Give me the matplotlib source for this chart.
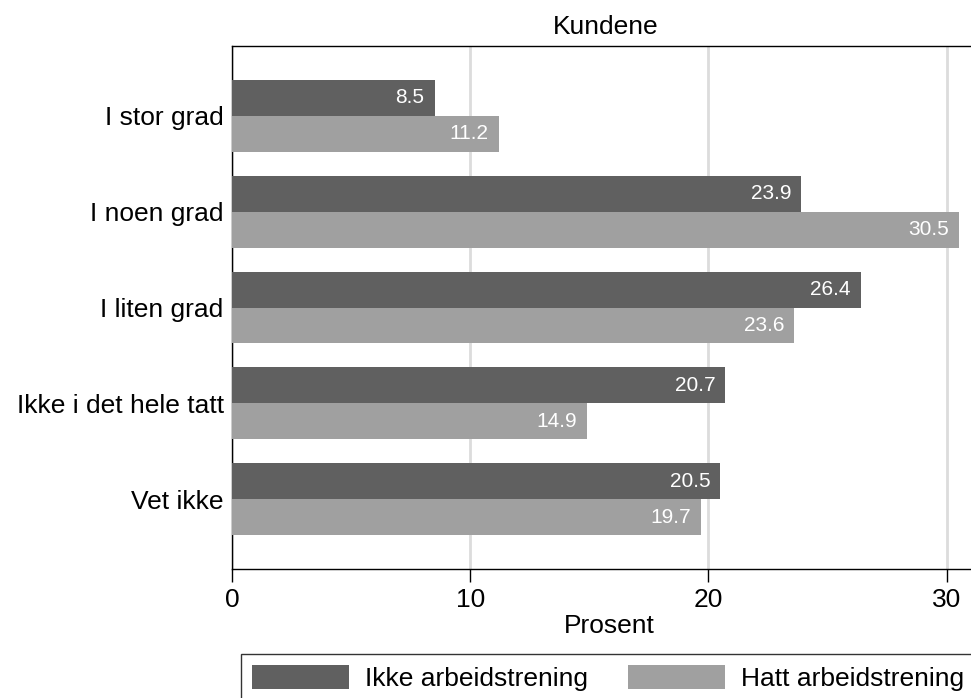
import matplotlib
matplotlib.use("Agg")
import matplotlib.pyplot as plt
import numpy as np

plt.rcParams['font.family'] = ['Liberation Sans', 'DejaVu Sans']

categories = ['I stor grad', 'I noen grad', 'I liten grad', 'Ikke i det hele tatt', 'Vet ikke']
ikke_arb = [8.5, 23.9, 26.4, 20.7, 20.5]
hatt_arb = [11.2, 30.5, 23.6, 14.9, 19.7]
series_names = ['Ikke arbeidstrening', 'Hatt arbeidstrening']
xticks = [0, 10, 20, 30]

dark = '#606060'
light = '#a0a0a0'
fs = 19

W, H = 971, 698
fig = plt.figure(figsize=(W / 100, H / 100), dpi=100)
ax = fig.add_axes([232 / W, 1 - 569 / H, 1 - 232 / W + 0.002, (569 - 46) / H])

y = np.arange(len(categories))
h = 0.375
b1 = ax.barh(y - h / 2, ikke_arb, height=h, color=dark, label=series_names[0], zorder=3)
b2 = ax.barh(y + h / 2, hatt_arb, height=h, color=light, label=series_names[1], zorder=3)

for bars, vals in [(b1, ikke_arb), (b2, hatt_arb)]:
    for bar, v in zip(bars, vals):
        ax.text(v - 0.42, bar.get_y() + bar.get_height() / 2, f'{v:.1f}',
                ha='right', va='center', color='white', fontsize=15, zorder=4)

ax.set_ylim(len(categories) - 1 + 0.73, -0.73)
ax.set_xlim(0, 31.1)
ax.set_yticks(y)
ax.set_yticklabels(categories, fontsize=fs)
ax.tick_params(axis='y', length=0, pad=6)
ax.set_xticks(xticks)
ax.tick_params(axis='x', labelsize=fs, length=9, width=1, pad=5)
ax.xaxis.grid(True, color='#dcdcdc', linewidth=2, zorder=0)

ax.spines['right'].set_visible(False)
for s in ['left', 'top', 'bottom']:
    ax.spines[s].set_linewidth(1)
    ax.spines[s].set_color('black')

fig.text(606 / W, 1 - 27 / H, 'Kundene', ha='center', va='center', fontsize=fs)
fig.text(609 / W, 1 - 626 / H, 'Prosent', ha='center', va='center', fontsize=fs)

leg = fig.legend(handles=[b1, b2], labels=series_names, loc='upper left',
                 bbox_to_anchor=(241 / W, 1 - 654 / H),
                 ncol=2, fontsize=fs, frameon=True, fancybox=False,
                 edgecolor='black', handlelength=3.7, handleheight=1.05,
                 handletextpad=0.6, borderpad=0.4, borderaxespad=0,
                 columnspacing=1.5)
leg.get_frame().set_linewidth(1)

fig.savefig('out.png', dpi=100)
